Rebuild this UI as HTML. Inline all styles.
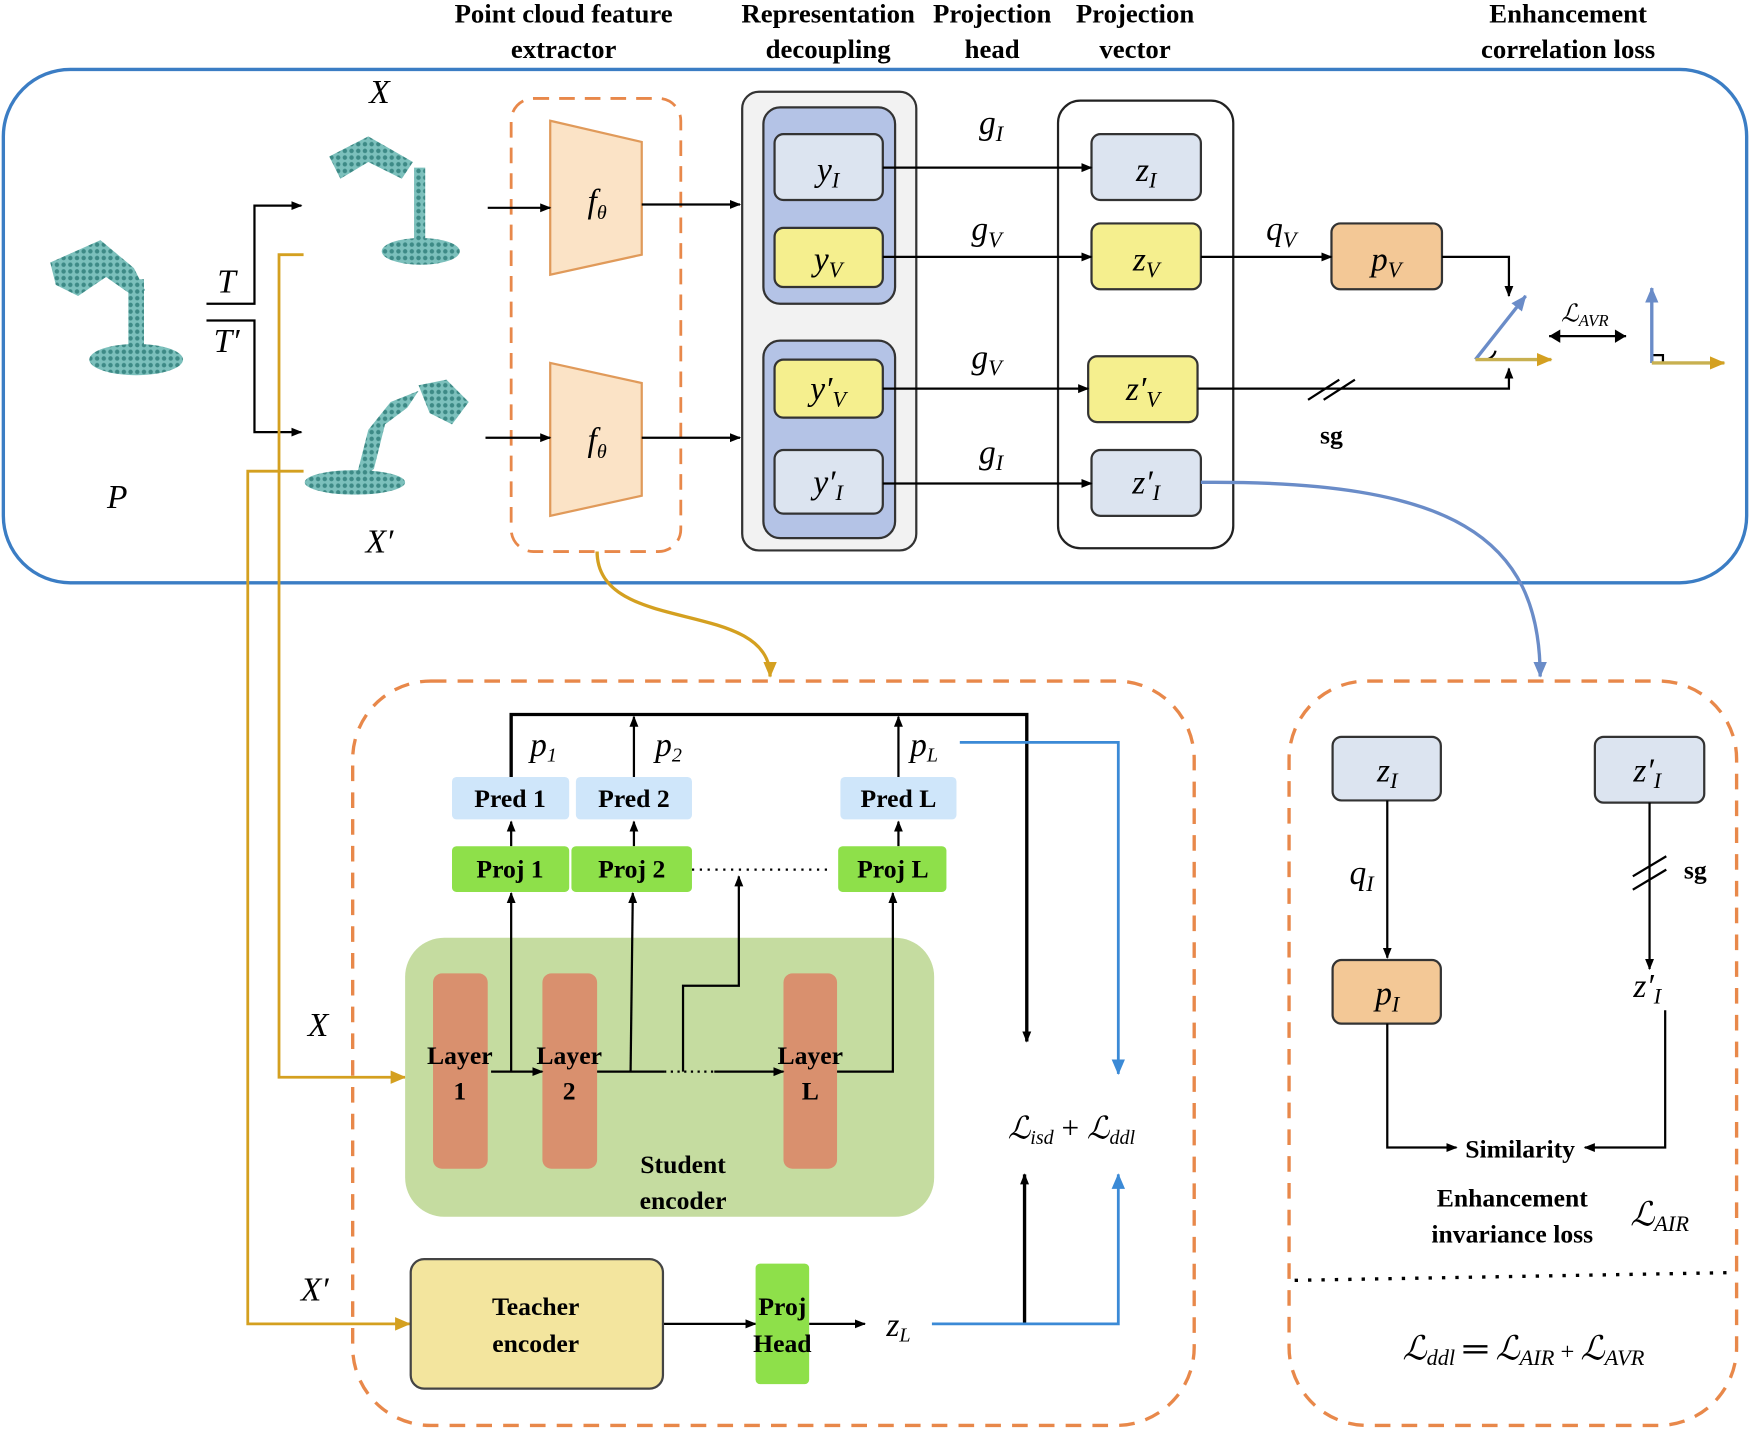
<!DOCTYPE html>
<html><head><meta charset="utf-8"><style>
html,body{margin:0;padding:0;background:#fff;}
svg{display:block;}
text{font-family:"Liberation Serif",serif;}
.h{font-weight:bold;font-size:24px;text-anchor:middle;}
.m{font-style:italic;font-size:30px;text-anchor:middle;}
.b{font-weight:bold;font-size:23px;text-anchor:middle;}
</style></head><body>
<svg width="1750" height="1429" viewBox="0 0 1568 1280" xmlns="http://www.w3.org/2000/svg">
<defs>
<marker id="a" markerWidth="10" markerHeight="10" refX="9" refY="5" orient="auto" markerUnits="userSpaceOnUse"><path d="M0,1 L10,5 L0,9 z" fill="#000"/></marker>
<marker id="ab" markerWidth="14" markerHeight="14" refX="13" refY="7" orient="auto" markerUnits="userSpaceOnUse"><path d="M0,1 L14,7 L0,13 z" fill="#3b8ad6"/></marker>
<marker id="ag" markerWidth="14" markerHeight="14" refX="13" refY="7" orient="auto" markerUnits="userSpaceOnUse"><path d="M0,1 L14,7 L0,13 z" fill="#d4a020"/></marker>
<marker id="av" markerWidth="14" markerHeight="14" refX="13" refY="7" orient="auto" markerUnits="userSpaceOnUse"><path d="M0,1 L14,7 L0,13 z" fill="#6a8cc8"/></marker>
<pattern id="dots" width="6" height="6" patternUnits="userSpaceOnUse"><rect width="6" height="6" fill="#7cc0bc"/><circle cx="3" cy="3" r="2" fill="#3d8a86"/></pattern>
</defs>
<!-- headers -->
<text class="h" x="505" y="20">Point cloud feature</text><text class="h" x="505" y="52">extractor</text>
<text class="h" x="742" y="20">Representation</text><text class="h" x="742" y="52">decoupling</text>
<text class="h" x="889" y="20">Projection</text><text class="h" x="889" y="52">head</text>
<text class="h" x="1017" y="20">Projection</text><text class="h" x="1017" y="52">vector</text>
<text class="h" x="1405" y="20">Enhancement</text><text class="h" x="1405" y="52">correlation loss</text>
<rect x="3" y="62" width="1562" height="460" rx="60" fill="none" stroke="#3b7dc4" stroke-width="3"/>
<!-- point clouds (approx) -->
<g fill="url(#dots)" stroke="none">
<ellipse cx="122" cy="322" rx="42" ry="14"/><rect x="115" y="250" width="14" height="72"/>
<path d="M45,235 L90,215 L120,240 L130,260 L115,262 L95,248 L70,265 L50,255 z"/>
<ellipse cx="377" cy="225" rx="35" ry="12"/><rect x="371" y="150" width="10" height="75"/>
<path d="M295,140 L330,122 L370,145 L360,160 L330,145 L305,160 z"/>
<ellipse cx="318" cy="432" rx="45" ry="11"/><path d="M318,432 L330,385 L350,360 L375,350 L365,365 L345,380 L335,420 z"/>
<path d="M375,345 L400,340 L420,360 L405,380 L385,370 z"/>
</g>
<text class="m" x="340" y="92" font-size="24">X</text>
<text class="m" x="105" y="455" font-size="24">P</text>
<text class="m" x="340" y="495" font-size="24">X′</text>
<text class="m" x="203" y="262" font-size="24">T</text>
<text class="m" x="203" y="315" font-size="24">T′</text>
<g stroke="#000" stroke-width="2" fill="none">
<path d="M185,272 H228 V184 H270" marker-end="url(#a)"/>
<path d="M185,287 H228 V387 H270" marker-end="url(#a)"/>
</g>
<!-- extractor -->
<rect x="458" y="88" width="152" height="406" rx="20" fill="none" stroke="#e8884a" stroke-width="2.5" stroke-dasharray="14,9"/>
<polygon points="493,108 575,127 575,228 493,246" fill="#fbe3c6" stroke="#e09a5a" stroke-width="2"/>
<polygon points="493,325 575,343 575,444 493,462" fill="#fbe3c6" stroke="#e09a5a" stroke-width="2"/>
<text class="m" x="535" y="190">f<tspan font-size="18" dy="6">θ</tspan></text>
<text class="m" x="535" y="404">f<tspan font-size="18" dy="6">θ</tspan></text>
<g stroke="#000" stroke-width="2" fill="none">
<path d="M437,186 H493" marker-end="url(#a)"/><path d="M575,183 H663" marker-end="url(#a)"/>
<path d="M435,392 H493" marker-end="url(#a)"/><path d="M575,392 H663" marker-end="url(#a)"/>
</g>
<!-- decoupling -->
<rect x="665" y="82" width="156" height="411" rx="15" fill="#f2f2f2" stroke="#333" stroke-width="2"/>
<rect x="684" y="96" width="118" height="176" rx="15" fill="#b4c3e6" stroke="#333" stroke-width="2"/>
<rect x="684" y="305" width="118" height="177" rx="15" fill="#b4c3e6" stroke="#333" stroke-width="2"/>
<g stroke="#333" stroke-width="2">
<rect x="694" y="120" width="97" height="59" rx="8" fill="#dce4f0"/>
<rect x="694" y="204" width="97" height="53" rx="8" fill="#f5ef8e"/>
<rect x="694" y="322" width="97" height="52" rx="8" fill="#f5ef8e"/>
<rect x="694" y="403" width="97" height="57" rx="8" fill="#dce4f0"/>
<rect x="978" y="120" width="98" height="59" rx="8" fill="#dce4f0"/>
<rect x="978" y="200" width="98" height="59" rx="8" fill="#f5ef8e"/>
<rect x="975" y="319" width="98" height="59" rx="8" fill="#f5ef8e"/>
<rect x="978" y="403" width="98" height="59" rx="8" fill="#dce4f0"/>
<rect x="1193" y="200" width="99" height="59" rx="8" fill="#f3c896"/>
</g>
<rect x="948" y="90" width="157" height="401" rx="20" fill="none" stroke="#222" stroke-width="2"/>
<text class="m" x="742" y="162">y<tspan font-size="20" dy="6">I</tspan></text>
<text class="m" x="742" y="242">y<tspan font-size="20" dy="6">V</tspan></text>
<text class="m" x="742" y="358">y′<tspan font-size="20" dy="6">V</tspan></text>
<text class="m" x="742" y="442">y′<tspan font-size="20" dy="6">I</tspan></text>
<text class="m" x="1027" y="162">z<tspan font-size="20" dy="6">I</tspan></text>
<text class="m" x="1027" y="242">z<tspan font-size="20" dy="6">V</tspan></text>
<text class="m" x="1024" y="358">z′<tspan font-size="20" dy="6">V</tspan></text>
<text class="m" x="1027" y="442">z′<tspan font-size="20" dy="6">I</tspan></text>
<text class="m" x="1242" y="242">p<tspan font-size="20" dy="6">V</tspan></text>
<text class="m" x="888" y="120">g<tspan font-size="20" dy="6">I</tspan></text>
<text class="m" x="884" y="215">g<tspan font-size="20" dy="6">V</tspan></text>
<text class="m" x="884" y="330">g<tspan font-size="20" dy="6">V</tspan></text>
<text class="m" x="888" y="415">g<tspan font-size="20" dy="6">I</tspan></text>
<text class="m" x="1148" y="215">q<tspan font-size="20" dy="6">V</tspan></text>
<g stroke="#000" stroke-width="2" fill="none">
<path d="M791,150 H978" marker-end="url(#a)"/><path d="M791,230 H978" marker-end="url(#a)"/>
<path d="M791,348 H975" marker-end="url(#a)"/><path d="M791,433 H978" marker-end="url(#a)"/>
<path d="M1076,230 H1193" marker-end="url(#a)"/>
<path d="M1292,230 H1352 V265" marker-end="url(#a)"/>
<path d="M1073,348 H1352 V330" marker-end="url(#a)"/>
<path d="M1172,358 L1200,340 M1186,358 L1214,340"/>
<path d="M1388,301 H1457"/>
<path d="M1480,318 H1490 V326"/>
<path d="M1330,322 A10,10 0 0 0 1340,314" />
</g>
<path d="M1398,295 L1388,301 L1398,307 z M1447,295 L1457,301 L1447,307 z" fill="#000"/>
<text x="1193" y="397" class="b" font-size="20">sg</text>
<path d="M1322,322 L1367,265" stroke="#6a8cc8" stroke-width="3" fill="none" marker-end="url(#av)"/>
<path d="M1322,322 H1390" stroke="#c8b050" stroke-width="3" fill="none" marker-end="url(#ag)"/>
<path d="M1480,325 V258" stroke="#6a8cc8" stroke-width="3" fill="none" marker-end="url(#av)"/>
<path d="M1480,325 H1545" stroke="#c8b050" stroke-width="3" fill="none" marker-end="url(#ag)"/>
<text x="1420" y="288" font-style="italic" font-size="22" text-anchor="middle">ℒ<tspan font-size="15" dy="4">AVR</tspan></text>
<!-- curves -->
<path d="M1076,432 C1300,430 1380,480 1380,606" stroke="#6a8cc8" stroke-width="3" fill="none" marker-end="url(#av)"/>
<path d="M535,494 C535,570 690,535 690,606" stroke="#d4a020" stroke-width="3" fill="none" marker-end="url(#ag)"/>
<g stroke="#d4a020" stroke-width="2.5" fill="none">
<path d="M272,228 H250 V965 H363" marker-end="url(#ag)"/>
<path d="M272,422 H222 V1186 H367" marker-end="url(#ag)"/>
</g>
<!-- bottom boxes -->
<rect x="316" y="610" width="754" height="667" rx="70" fill="none" stroke="#e8884a" stroke-width="3" stroke-dasharray="14,10"/>
<rect x="1155" y="610" width="401" height="667" rx="70" fill="none" stroke="#e8884a" stroke-width="3" stroke-dasharray="14,10"/>
<rect x="363" y="840" width="474" height="250" rx="35" fill="#c5dca0"/>
<g fill="#d9906e"><rect x="388" y="872" width="49" height="175" rx="8"/><rect x="486" y="872" width="49" height="175" rx="8"/><rect x="702" y="872" width="48" height="175" rx="8"/></g>
<g stroke="#000" stroke-width="2" fill="none">
<path d="M440,960 H486" marker-end="url(#a)"/><path d="M535,960 H595"/><path d="M595,960 H640" stroke-dasharray="2,4"/><path d="M640,960 H702" marker-end="url(#a)"/>
<path d="M458,960 V800" marker-end="url(#a)"/><path d="M565,960 L567,800" marker-end="url(#a)"/>
<path d="M612,960 V883 H662 V785" marker-end="url(#a)"/><path d="M750,960 H800 V800" marker-end="url(#a)"/>
<path d="M458,758 V736" marker-end="url(#a)"/><path d="M568,758 V736" marker-end="url(#a)"/><path d="M805,758 V736" marker-end="url(#a)"/>
<path d="M568,696 V642" marker-end="url(#a)"/><path d="M805,696 V642" marker-end="url(#a)"/>
<path d="M620,779 H745" stroke-dasharray="2,5"/>
<path d="M594,1186 H677" marker-end="url(#a)"/><path d="M725,1186 H775" marker-end="url(#a)"/>
</g>
<path d="M458,696 V640 H920 V933" stroke="#000" stroke-width="3" fill="none" marker-end="url(#a)"/>
<path d="M918,1186 V1052" stroke="#000" stroke-width="3" fill="none" marker-end="url(#a)"/>
<path d="M860,665 H1002 V962" stroke="#3b8ad6" stroke-width="2.5" fill="none" marker-end="url(#ab)"/>
<path d="M835,1186 H1002 V1052" stroke="#3b8ad6" stroke-width="2.5" fill="none" marker-end="url(#ab)"/>
<g fill="#8ee04a"><rect x="405" y="758" width="105" height="41" rx="4"/><rect x="512" y="758" width="108" height="41" rx="4"/><rect x="751" y="758" width="97" height="41" rx="4"/><rect x="677" y="1132" width="48" height="108" rx="4"/></g>
<g fill="#cfe6fa"><rect x="405" y="696" width="105" height="38" rx="4"/><rect x="516" y="696" width="104" height="38" rx="4"/><rect x="753" y="696" width="104" height="38" rx="4"/></g>
<rect x="368" y="1128" width="226" height="116" rx="12" fill="#f3e59e" stroke="#444" stroke-width="2"/>
<text class="b" x="457" y="723">Pred 1</text><text class="b" x="568" y="723">Pred 2</text><text class="b" x="805" y="723">Pred L</text>
<text class="b" x="457" y="786">Proj 1</text><text class="b" x="566" y="786">Proj 2</text><text class="b" x="800" y="786">Proj L</text>
<text class="b" x="412" y="953">Layer</text><text class="b" x="412" y="985">1</text>
<text class="b" x="510" y="953">Layer</text><text class="b" x="510" y="985">2</text>
<text class="b" x="726" y="953">Layer</text><text class="b" x="726" y="985">L</text>
<text class="b" x="612" y="1051">Student</text><text class="b" x="612" y="1083">encoder</text>
<text class="b" x="480" y="1178">Teacher</text><text class="b" x="480" y="1211">encoder</text>
<text class="b" x="701" y="1178">Proj</text><text class="b" x="701" y="1211">Head</text>
<text class="m" x="487" y="677" font-size="26">p<tspan font-size="18" dy="5">1</tspan></text>
<text class="m" x="599" y="677" font-size="26">p<tspan font-size="18" dy="5">2</tspan></text>
<text class="m" x="828" y="677" font-size="26">p<tspan font-size="18" dy="5">L</tspan></text>
<text class="m" x="805" y="1197" font-size="26">z<tspan font-size="18" dy="5">L</tspan></text>
<text class="m" x="285" y="928" font-size="24">X</text>
<text class="m" x="282" y="1165" font-size="24">X′</text>
<text x="960" y="1020" font-style="italic" font-size="28" text-anchor="middle">ℒ<tspan font-size="18" dy="5">isd</tspan><tspan dy="-5" font-style="normal"> + </tspan>ℒ<tspan font-size="18" dy="5">ddl</tspan></text>
<!-- right panel -->
<g stroke="#333" stroke-width="2">
<rect x="1194" y="660" width="97" height="57" rx="8" fill="#dce4f0"/>
<rect x="1429" y="660" width="98" height="59" rx="8" fill="#dce4f0"/>
<rect x="1194" y="860" width="97" height="57" rx="8" fill="#f3c896"/>
</g>
<text class="m" x="1243" y="700">z<tspan font-size="20" dy="6">I</tspan></text>
<text class="m" x="1476" y="700">z′<tspan font-size="20" dy="6">I</tspan></text>
<text class="m" x="1243" y="900">p<tspan font-size="20" dy="6">I</tspan></text>
<text class="m" x="1220" y="792">q<tspan font-size="20" dy="6">I</tspan></text>
<text class="m" x="1476" y="893">z′<tspan font-size="20" dy="6">I</tspan></text>
<text class="b" x="1519" y="787" font-size="20">sg</text>
<g stroke="#000" stroke-width="2" fill="none">
<path d="M1243,717 V858" marker-end="url(#a)"/>
<path d="M1243,917 V1028 H1305" marker-end="url(#a)"/>
<path d="M1478,719 V868" marker-end="url(#a)"/>
<path d="M1492,905 V1028 H1420" marker-end="url(#a)"/>
<path d="M1463,785 L1493,767 M1463,797 L1493,779"/>
<path d="M1160,1147 L1555,1140" stroke-dasharray="3,9" stroke-width="3"/>
</g>
<text class="b" x="1362" y="1037">Similarity</text>
<text class="b" x="1355" y="1081">Enhancement</text><text class="b" x="1355" y="1113">invariance loss</text>
<text x="1487" y="1098" font-style="italic" font-size="30" text-anchor="middle">ℒ<tspan font-size="20" dy="5">AIR</tspan></text>
<text x="1365" y="1218" font-style="italic" font-size="30" text-anchor="middle">ℒ<tspan font-size="20" dy="5">ddl</tspan><tspan dy="-5" font-style="normal"> ═ </tspan>ℒ<tspan font-size="20" dy="5">AIR</tspan><tspan dy="-5" font-style="normal" font-size="22">  +  </tspan>ℒ<tspan font-size="20" dy="5">AVR</tspan></text>
</svg>
</body></html>
